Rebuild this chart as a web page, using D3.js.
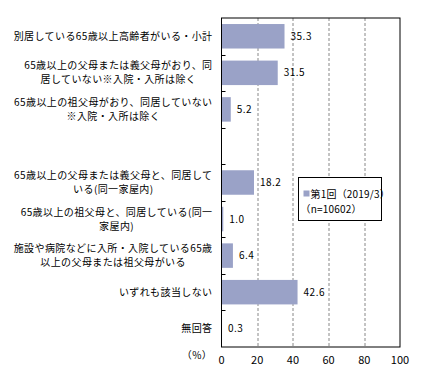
<!DOCTYPE html>
<html>
<head>
<meta charset="utf-8">
<script src="https://cdn.jsdelivr.net/npm/d3@7"></script>
<style>
  body { margin: 0; background: #fff; }
  text { font-family: "Noto Sans CJK JP", "Noto Sans", sans-serif; }
</style>
</head>
<body>
<div id="chart"></div>
<script>
// categories (empty entry = spacer row in the original chart)
const categories = [
    ["別居している65歳以上高齢者がいる・小計"],
    ["65歳以上の父母または義父母がおり、同", "居していない※入院・入所は除く"],
    ["65歳以上の祖父母がおり、同居していない", "※入院・入所は除く"],
    [],
    ["65歳以上の父母または義父母と、同居して", "いる(同一家屋内)"],
    ["65歳以上の祖父母と、同居している(同一", "家屋内)"],
    ["施設や病院などに入所・入院している65歳", "以上の父母または祖父母がいる"],
    ["いずれも該当しない"],
    ["無回答"]
];
const values = [35.3, 31.5, 5.2, null, 18.2, 1.0, 6.4, 42.6, 0.3];
const xTicks = [0, 20, 40, 60, 80, 100];
const seriesName = ["第1回（2019/3）", "（n=10602）"];

const W = 423, H = 376;
const margin = { top: 18, right: 23, bottom: 29, left: 221.5 };
const width = W - margin.left - margin.right;
const height = H - margin.top - margin.bottom;

const svg = d3.select("#chart").append("svg")
    .attr("width", W).attr("height", H);
const g = svg.append("g").attr("transform", `translate(${margin.left},${margin.top})`);

const x = d3.scaleLinear().domain([0, 100]).range([0, width]);
const y = d3.scaleBand().domain(d3.range(categories.length)).range([0, height]).paddingInner(0.33).paddingOuter(0.165);
const yb = d3.scaleBand().domain(d3.range(categories.length)).range([0, height]);

// dashed gridlines
g.selectAll(".grid").data(xTicks.filter(t => t > 0 && t < 100)).join("line")
    .attr("x1", d => Math.round(x(d)) + 0.5).attr("x2", d => Math.round(x(d)) + 0.5)
    .attr("y1", 0).attr("y2", height)
    .attr("stroke", "#888").attr("stroke-dasharray", "3,2");

// bars
const rows = values.map((v, i) => ({ i, v })).filter(d => d.v != null);
g.selectAll(".bar").data(rows).join("rect")
    .attr("x", 0).attr("y", d => y(d.i))
    .attr("width", d => x(d.v)).attr("height", y.bandwidth())
    .attr("fill", "#9aa2c7");

g.selectAll(".val").data(rows).join("text")
    .attr("x", d => x(d.v) + 6).attr("y", d => y(d.i) + y.bandwidth() / 2)
    .attr("dy", "0.35em").attr("font-size", 10).attr("letter-spacing", 0.5)
    .text(d => d.v.toFixed(1));

// frame
g.append("rect").attr("x", 0).attr("y", 0).attr("width", width).attr("height", height)
    .attr("fill", "none").attr("stroke", "#000");

// left ticks (inside)
g.selectAll(".ytick").data(d3.range(1, categories.length)).join("line")
    .attr("x1", 0).attr("x2", 4)
    .attr("y1", d => Math.round(yb(d)) + 0.5).attr("y2", d => Math.round(yb(d)) + 0.5)
    .attr("stroke", "#000");

// x axis labels
g.selectAll(".xt").data(xTicks).join("text")
    .attr("x", d => x(d)).attr("y", height + 13)
    .attr("dy", "0.35em").attr("text-anchor", "middle").attr("font-size", 11)
    .text(d => d);

svg.append("text").attr("x", 197).attr("y", 355).attr("dy", "0.35em")
    .attr("text-anchor", "middle").attr("font-size", 10).attr("letter-spacing", 0.5).text("（%）");

// category labels
const lineH = 14;
categories.forEach((lines, i) => {
    if (!lines.length) return;
    const cy = margin.top + yb(i) + yb.bandwidth() / 2;
    const t = svg.append("text").attr("font-size", 10).attr("letter-spacing", 0.4);
    const spans = lines.map((s, k) => t.append("tspan")
        .attr("y", cy + (k - (lines.length - 1) / 2) * lineH)
        .attr("dy", "0.35em").text(s));
    const maxW = d3.max(spans, s => s.node().getComputedTextLength());
    const cx = margin.left - 9 - maxW / 2;
    spans.forEach(s => s.attr("x", cx).attr("text-anchor", "middle"));
});

// legend
const lg = svg.append("g").attr("transform", "translate(298.5,177.5)");
lg.append("rect").attr("width", 83).attr("height", 43).attr("fill", "#fff").attr("stroke", "#000");
lg.append("rect").attr("x", 5).attr("y", 13).attr("width", 6).attr("height", 6).attr("fill", "#9aa2c7");
lg.append("text").attr("x", 12).attr("y", 16.5).attr("dy", "0.35em").attr("font-size", 10).attr("letter-spacing", 0.2).text(seriesName[0]);
lg.append("text").attr("x", 2).attr("y", 31.5).attr("dy", "0.35em").attr("font-size", 10).attr("letter-spacing", 0.2).text(seriesName[1]);
</script>
</body>
</html>
